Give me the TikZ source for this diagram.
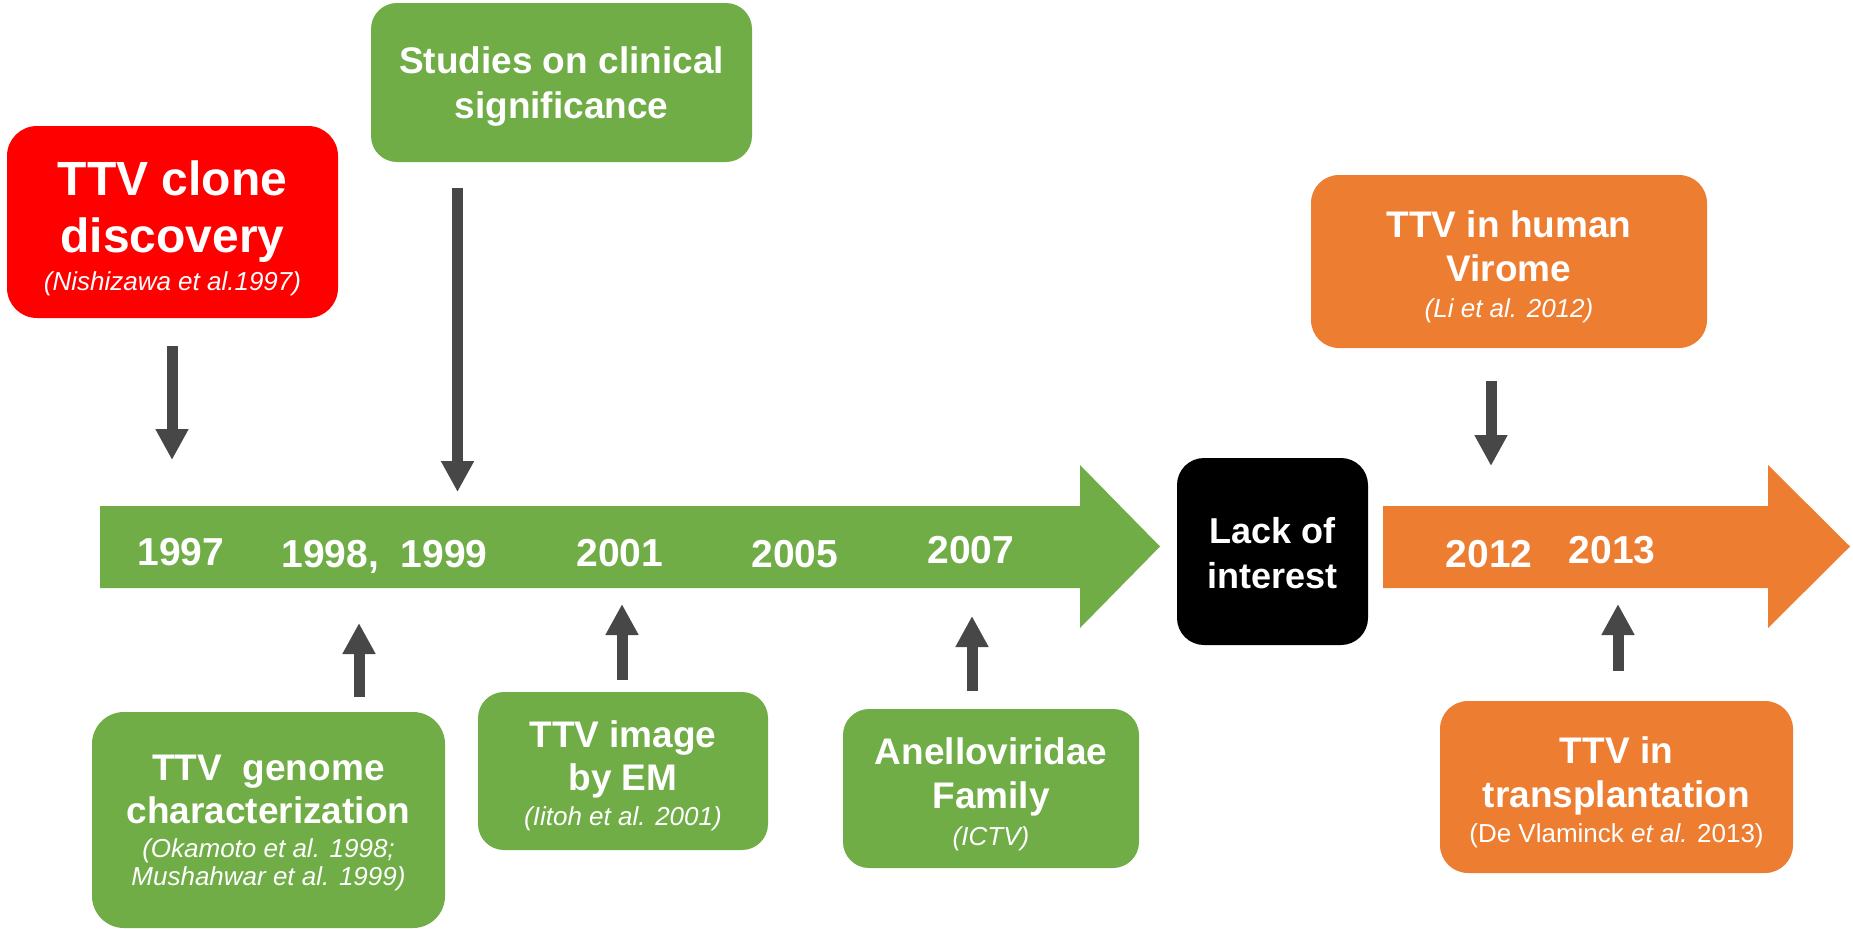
\documentclass[tikz,border=0pt]{standalone}
\usepackage{fontspec}
\setmainfont{Liberation Sans}
\usetikzlibrary{arrows.meta}
\definecolor{tgreen}{HTML}{70AD47}
\definecolor{torange}{HTML}{ED7D31}
\definecolor{tred}{HTML}{FF0000}
\definecolor{tgray}{HTML}{474747}
\newcommand{\refcite}[1]{{\fontsize{26}{30}\selectfont\mdseries\itshape #1}}
\tikzset{
  box/.style={inner sep=0pt, align=center, text=white, rounded corners=28pt},
  big/.style={font=\bfseries\fontsize{37}{#1}\selectfont},
  yr/.style={anchor=base, text=white, inner sep=0pt, font=\bfseries\fontsize{39}{45}\selectfont},
  darr/.style={draw=tgray, line width=11pt, -{Triangle[width=31pt,length=31pt]}}
}
\begin{document}
\begin{tikzpicture}[x=1pt,y=-1pt]
\useasboundingbox (0,0) rectangle (1853,929);
% timeline bars
\fill[tgreen] (100,506) -- (1080,506) -- (1080,465) -- (1160,546.5) -- (1080,628) -- (1080,588) -- (100,588) -- cycle;
\fill[torange] (1383,506) -- (1768,506) -- (1768,465) -- (1850,546.5) -- (1768,628) -- (1768,588) -- (1383,588) -- cycle;
% years
\node[yr] (y1997) at (181,565) {1997};
\node[yr] (y1998) at (384.5,567) {1998,\ \ 1999};
\node[yr] (y2001) at (620,566) {2001};
\node[yr] (y2005) at (795,567) {2005};
\node[yr] (y2007) at (971,563) {2007};
\node[yr] (y2012) at (1489,567) {2012};
\node[yr] (y2013) at (1612,563) {2013};
% boxes
\node[box, fill=tred, rounded corners=30pt, minimum width=331pt, minimum height=192pt,
      text height=164pt, text depth=28pt, font=\bfseries\fontsize{48}{57}\selectfont]
  (clone) at (172.5,222) {TTV clone\\discovery\\[-19pt]\refcite{(Nishizawa et al.1997)}};
\node[box, fill=tgreen, rounded corners=26pt, minimum width=381pt, minimum height=159pt,
      text height=115pt, text depth=44pt, big=45]
  (clin) at (561.5,82.5) {Studies on clinical\\significance};
\node[box, fill=tgreen, rounded corners=32pt, minimum width=353pt, minimum height=216pt,
      text height=173pt, text depth=43pt, big=43]
  (genome) at (268.5,820) {TTV\ \ genome\\characterization\\[-9pt]\refcite{(Okamoto et al. 1998;}\\[-15pt]\refcite{Mushahwar et al. 1999)}};
\node[box, fill=tgreen, rounded corners=26pt, minimum width=290pt, minimum height=158pt,
      text height=133pt, text depth=25pt, big=43]
  (image) at (623,771) {TTV image\\by EM\\[-8pt]\refcite{(Iitoh et al. 2001)}};
\node[box, fill=tgreen, rounded corners=26pt, minimum width=296pt, minimum height=159pt,
      text height=136pt, text depth=23pt, big=44]
  (anello) at (991,788.5) {Anelloviridae\\Family\\[-7pt]\refcite{(ICTV)}};
\node[box, fill=black, rounded corners=27pt, minimum width=191pt, minimum height=187pt,
      text height=130pt, text depth=57pt, font=\bfseries\fontsize{36}{45}\selectfont]
  (lack) at (1272.5,551.5) {Lack of\\interest};
\node[box, fill=torange, rounded corners=28pt, minimum width=396pt, minimum height=173pt,
      text height=142pt, text depth=31pt, big=44]
  (virome) at (1509,261.5) {TTV in human\\Virome\\[-8pt]\refcite{(Li et al. 2012)}};
\node[box, fill=torange, rounded corners=28pt, minimum width=353pt, minimum height=172pt,
      text height=141pt, text depth=31pt, big=44]
  (transp) at (1616.5,787) {TTV in\\transplantation\\[-9pt]{\fontsize{26}{30}\selectfont\mdseries (De Vlaminck \textit{et al.} 2013)}};
% arrow end points
\coordinate (a1s) at (172,346);  \coordinate (a1e) at (172,460);
\coordinate (a2s) at (457.5,188); \coordinate (a2e) at (457.5,492);
\coordinate (a3s) at (359,697);  \coordinate (a3e) at (359,623);
\coordinate (a4s) at (622,680);  \coordinate (a4e) at (622,604);
\coordinate (a5s) at (972,691);  \coordinate (a5e) at (972,616);
\coordinate (a6s) at (1491,381); \coordinate (a6e) at (1491,466);
\coordinate (a7s) at (1618,671); \coordinate (a7e) at (1618,604);
\draw[darr] (a1s) -- (a1e);
\draw[darr] (a2s) -- (a2e);
\draw[darr] (a3s) -- (a3e);
\draw[darr] (a4s) -- (a4e);
\draw[darr] (a5s) -- (a5e);
\draw[darr] (a6s) -- (a6e);
\draw[darr] (a7s) -- (a7e);
\end{tikzpicture}
\end{document}
